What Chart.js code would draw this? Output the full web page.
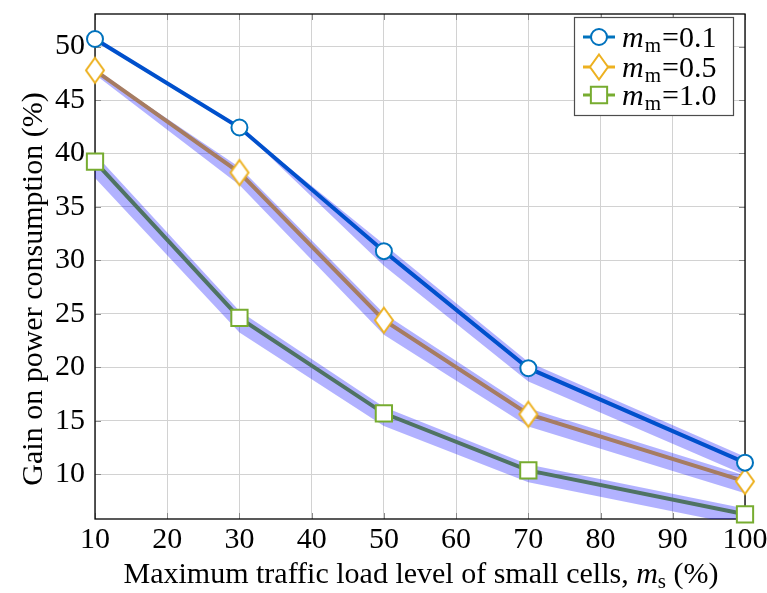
<!DOCTYPE html>
<html>
<head>
<meta charset="utf-8">
<script src="https://cdn.jsdelivr.net/npm/chart.js@4.4.1/dist/chart.umd.min.js"></script>
<style>
html,body{margin:0;padding:0;background:#fff;}
#wrap{width:767px;height:593px;}
</style>
</head>
<body>
<div id="wrap"><canvas id="c" width="767" height="593"></canvas></div>
<script>
// ---- data ----
const xLoad = [10, 30, 50, 70, 100];
const gain01 = [50.71, 42.43, 30.86, 19.91, 11.07];
const gain05 = [47.78, 38.21, 24.40, 15.60, 9.32];
const gain10 = [39.23, 24.61, 15.69, 10.35, 6.24];
// shaded band (upper / lower bounds)
const band01Hi = [50.71, 42.43, 31.50, 20.50, 11.62];
const band01Lo = [50.71, 42.43, 29.50, 18.66, 9.92];
const band05Hi = [47.78, 38.72, 25.02, 16.17, 9.86];
const band05Lo = [47.40, 37.05, 23.05, 14.45, 8.20];
const band10Hi = [39.95, 25.27, 16.28, 10.90, 6.78];
const band10Lo = [37.70, 23.24, 14.50, 9.24, 5.15];
const seriesNames = ['0.1', '0.5', '1.0'];
const xTicks = [10, 20, 30, 40, 50, 60, 70, 80, 90, 100];
const yTicks = [10, 15, 20, 25, 30, 35, 40, 45, 50];

const FONT = '"Liberation Serif", "DejaVu Serif", serif';
const FS = 30;
const FSUB = 21;

function pts(ys){ return xLoad.map((x,i)=>({x:x, y:ys[i]})); }

// diamond marker image
function makeDiamond(){
  const c = document.createElement('canvas');
  c.width = 24; c.height = 30;
  const g = c.getContext('2d');
  g.beginPath();
  g.moveTo(12, 2.5); g.lineTo(21, 15); g.lineTo(12, 27.5); g.lineTo(3, 15); g.closePath();
  g.fillStyle = '#fff'; g.fill();
  g.lineWidth = 2; g.strokeStyle = '#edb120'; g.lineJoin = 'miter'; g.stroke();
  return c;
}
const diamond = makeDiamond();

const markerStyles = [
  {pointStyle:'circle', radius:8, borderWidth:2, borderColor:'#0072bd'},
  {pointStyle:diamond, radius:12, borderWidth:2, borderColor:'#edb120'},
  {pointStyle:'rect', radius:11.5, borderWidth:2, borderColor:'#77ac30'}
];
const lineColors = ['#0050cc', '#a67c62', '#4f7363'];
const legendColors = ['#0072bd', '#edb120', '#77ac30'];
const bandColor = 'rgba(0,0,255,0.3)';

function bandSets(hi, lo){
  return [
    {data:pts(hi), borderWidth:0, pointRadius:0, fill:'+1', backgroundColor:bandColor, order:2, tension:0},
    {data:pts(lo), borderWidth:0, pointRadius:0, fill:false, order:2, tension:0}
  ];
}
function lineSet(vals, k){
  const m = markerStyles[k];
  return {data:pts(vals), borderColor:lineColors[k], borderWidth:4, fill:false, order:0, tension:0, clip:false,
    pointStyle:m.pointStyle, pointRadius:m.radius, pointHoverRadius:m.radius,
    pointBorderWidth:m.borderWidth, pointBorderColor:m.borderColor, pointBackgroundColor:'#fff'};
}

const decor = {
  id:'decor',
  beforeDatasetsDraw(chart){
    const ctx = chart.ctx, a = chart.chartArea;
    const xs = chart.scales.x, ys = chart.scales.y;
    ctx.save();
    ctx.strokeStyle = '#8a8a8a'; ctx.lineWidth = 1;
    ctx.beginPath();
    yTicks.forEach(v=>{ const p = Math.round(ys.getPixelForValue(v))+0.5;
      ctx.moveTo(a.left, p); ctx.lineTo(a.left+6, p); ctx.moveTo(a.right, p); ctx.lineTo(a.right-6, p); });
    xTicks.forEach(v=>{ const p = Math.round(xs.getPixelForValue(v))+0.5;
      ctx.moveTo(p, a.bottom); ctx.lineTo(p, a.bottom-6); ctx.moveTo(p, a.top); ctx.lineTo(p, a.top+6); });
    ctx.stroke();
    ctx.strokeStyle = '#000'; ctx.lineWidth = 1.3;
    ctx.strokeRect(a.left, a.top, a.right-a.left, a.bottom-a.top);
    ctx.restore();
  },
  afterDraw(chart){
    const ctx = chart.ctx;
    ctx.save();
    ctx.textBaseline = 'alphabetic';
    // legend
    const lx = 574, ly = 17, lw = 159, lh = 98;
    ctx.fillStyle = '#fff'; ctx.fillRect(lx, ly, lw, lh);
    ctx.strokeStyle = '#4d4d4d'; ctx.lineWidth = 1.2; ctx.strokeRect(lx+0.5, ly+0.5, lw, lh);
    const rows = [37, 67, 95];
    rows.forEach((ry,k)=>{
      ctx.strokeStyle = legendColors[k]; ctx.lineWidth = 3;
      ctx.beginPath(); ctx.moveTo(583, ry); ctx.lineTo(615, ry); ctx.stroke();
      const m = markerStyles[k];
      ctx.fillStyle = '#fff'; ctx.strokeStyle = m.borderColor; ctx.lineWidth = m.borderWidth;
      Chart.helpers.drawPoint(ctx, {pointStyle:m.pointStyle, radius:m.radius, borderWidth:m.borderWidth, rotation:0}, 599, ry);
      ctx.fillStyle = '#000';
      let tx = 622; const base = ry + 10;
      ctx.font = 'italic ' + FS + 'px ' + FONT; ctx.textAlign = 'left';
      ctx.fillText('m', tx, base); tx += ctx.measureText('m').width + 1;
      ctx.font = FSUB + 'px ' + FONT;
      ctx.fillText('m', tx, base + 5); tx += ctx.measureText('m').width + 1;
      ctx.font = FS + 'px ' + FONT;
      ctx.fillText('=' + seriesNames[k], tx, base);
    });
    // x title with math
    const parts = [
      {t:'Maximum traffic load level of small cells, ', f:FS+'px '+FONT, dy:0},
      {t:'m', f:'italic '+FS+'px '+FONT, dy:0},
      {t:'s', f:FSUB+'px '+FONT, dy:5},
      {t:' (%)', f:FS+'px '+FONT, dy:0}
    ];
    let total = 0;
    parts.forEach(p=>{ ctx.font = p.f; p.w = ctx.measureText(p.t).width; total += p.w; });
    let x0 = 421 - total/2;
    ctx.fillStyle = '#000'; ctx.textAlign = 'left';
    parts.forEach(p=>{ ctx.font = p.f; ctx.fillText(p.t, x0, 583 + p.dy); x0 += p.w; });
    // y title
    ctx.translate(42, 289); ctx.rotate(-Math.PI/2);
    ctx.font = FS + 'px ' + FONT; ctx.textAlign = 'center';
    ctx.fillText('Gain on power consumption (%)', 0, 0);
    ctx.restore();
  }
};

new Chart(document.getElementById('c'), {
  type:'line',
  data:{ datasets:[
    ...bandSets(band01Hi, band01Lo),
    ...bandSets(band05Hi, band05Lo),
    ...bandSets(band10Hi, band10Lo),
    lineSet(gain01, 0), lineSet(gain05, 1), lineSet(gain10, 2)
  ]},
  options:{
    responsive:false, animation:false, devicePixelRatio:1,
    layout:{padding:{top:7, right:22, left:0, bottom:0}},
    plugins:{legend:{display:false}, tooltip:{enabled:false}, filler:{propagate:false}},
    scales:{
      x:{type:'linear', min:10, max:100,
        afterBuildTicks:s=>{ s.ticks = xTicks.map(v=>({value:v})); },
        afterFit:s=>{ s.height = 74; s.paddingLeft = 0; s.paddingRight = 0; },
        grid:{color:'#d2d2d2', lineWidth:1, drawTicks:false},
        border:{display:false},
        ticks:{color:'#000', font:{family:FONT, size:FS}, padding:3, maxRotation:0, autoSkip:false}},
      y:{type:'linear', min:5.8, max:53.05,
        afterBuildTicks:s=>{ s.ticks = yTicks.map(v=>({value:v})); },
        afterFit:s=>{ s.width = 95; s.paddingTop = 0; s.paddingBottom = 0; },
        grid:{color:'#d2d2d2', lineWidth:1, drawTicks:false},
        border:{display:false},
        ticks:{color:'#000', font:{family:FONT, size:FS}, padding:10, autoSkip:false}}
    }
  },
  plugins:[decor]
});
</script>
</body>
</html>
